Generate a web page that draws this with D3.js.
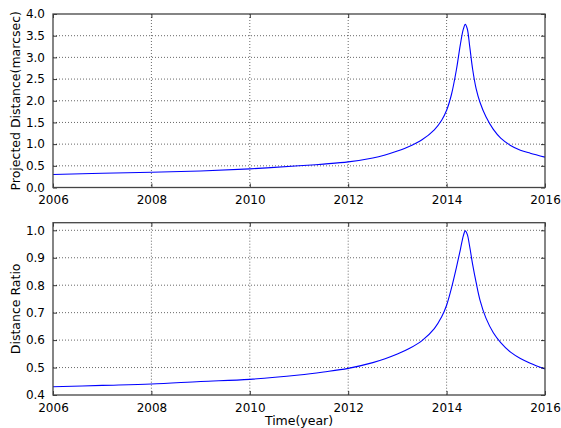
<!DOCTYPE html>
<html>
<head>
<meta charset="utf-8">
<script src="https://cdn.jsdelivr.net/npm/d3@7"></script>
<style>
  body { margin: 0; background: #fff; }
  svg { display: block; font-family: "DejaVu Sans", sans-serif; }
  .grid line { stroke: #000; stroke-width: 0.6; stroke-dasharray: 1,2; }
</style>
</head>
<body>
<svg id="chart" width="561" height="428"></svg>
<script>
// Layout
let width = 561, height = 428;
let left = 53, right = 545;

// Shared time axis (years)
let years = [2006, 2007, 2008, 2009, 2010, 2011, 2011.5, 2012, 2012.5, 2012.75, 2013, 2013.25,
             2013.5, 2013.75, 2013.9, 2014, 2014.1, 2014.2, 2014.28, 2014.34, 2014.38, 2014.42,
             2014.47, 2014.53, 2014.6, 2014.68, 2014.8, 2014.95, 2015.1, 2015.3, 2015.5, 2015.7, 2016];

// Top panel: projected distance (marcsec)
let projDist = [0.30, 0.33, 0.35, 0.38, 0.43, 0.50, 0.54, 0.59, 0.68, 0.75, 0.84, 0.95,
                1.10, 1.33, 1.55, 1.78, 2.15, 2.72, 3.30, 3.65, 3.76, 3.66,
                3.25, 2.72, 2.28, 1.96, 1.63, 1.34, 1.14, 0.97, 0.86, 0.79, 0.70];

// Bottom panel: distance ratio
let distRatio = [0.430, 0.435, 0.440, 0.449, 0.457, 0.473, 0.484, 0.497, 0.518, 0.532, 0.549, 0.570,
                 0.598, 0.642, 0.685, 0.727, 0.790, 0.865, 0.930, 0.980, 0.998, 0.985,
                 0.940, 0.875, 0.810, 0.745, 0.680, 0.627, 0.591, 0.556, 0.533, 0.516, 0.495];

let xTicks = [2006, 2008, 2010, 2012, 2014, 2016];
let topTicks = [0.0, 0.5, 1.0, 1.5, 2.0, 2.5, 3.0, 3.5, 4.0];
let bottomTicks = [0.4, 0.5, 0.6, 0.7, 0.8, 0.9, 1.0];

let svg = d3.select("#chart");

function drawPanel(top, bottom, values, yDomain, yTicks, yLabel, xLabel) {
    let x = d3.scaleLinear().domain([2006, 2016]).range([left, right]);
    let y = d3.scaleLinear().domain(yDomain).range([bottom, top]);
    let g = svg.append("g");

    // grid
    let grid = g.append("g").attr("class", "grid");
    grid.selectAll(".gx").data(xTicks.slice(1, -1)).enter().append("line")
        .attr("x1", d => x(d)).attr("x2", d => x(d))
        .attr("y1", top).attr("y2", bottom);
    grid.selectAll(".gy").data(yTicks.filter(d => y(d) > top + 1 && y(d) < bottom - 1)).enter().append("line")
        .attr("x1", left).attr("x2", right)
        .attr("y1", d => y(d)).attr("y2", d => y(d));

    // data line
    let line = d3.line()
        .x((d, i) => x(years[i]))
        .y(d => y(d))
        .curve(d3.curveCatmullRom.alpha(0.5));
    g.append("path")
        .datum(values)
        .attr("d", line)
        .attr("fill", "none")
        .attr("stroke", "#0000ff")
        .attr("stroke-width", 1.1);

    // axes with inward ticks on all four sides
    let tl = 4;
    g.append("g").attr("transform", `translate(0,${bottom})`)
        .call(d3.axisBottom(x).tickValues(xTicks).tickFormat(d3.format("d")).tickSizeInner(-tl).tickSizeOuter(0).tickPadding(8))
        .call(s => s.select(".domain").remove());
    g.append("g").attr("transform", `translate(0,${top})`)
        .call(d3.axisTop(x).tickValues(xTicks).tickFormat("").tickSizeInner(-tl).tickSizeOuter(0))
        .call(s => s.select(".domain").remove());
    g.append("g").attr("transform", `translate(${left},0)`)
        .call(d3.axisLeft(y).tickValues(yTicks).tickFormat(d3.format(".1f")).tickSizeInner(-tl).tickSizeOuter(0).tickPadding(8))
        .call(s => s.select(".domain").remove());
    g.append("g").attr("transform", `translate(${right},0)`)
        .call(d3.axisRight(y).tickValues(yTicks).tickFormat("").tickSizeInner(-tl).tickSizeOuter(0))
        .call(s => s.select(".domain").remove());

    g.selectAll(".tick text")
        .attr("font-family", "DejaVu Sans, sans-serif")
        .attr("font-size", 12)
        .attr("fill", "#000");
    g.selectAll(".tick line").attr("stroke", "#000").attr("stroke-width", 0.8);

    // frame
    g.append("rect")
        .attr("x", left).attr("y", top)
        .attr("width", right - left).attr("height", bottom - top)
        .attr("fill", "none")
        .attr("stroke", "#444")
        .attr("stroke-width", 1.3);

    // y label
    g.append("text")
        .attr("transform", `translate(20,${(top + bottom) / 2}) rotate(-90)`)
        .attr("text-anchor", "middle")
        .attr("font-size", 12.5)
        .text(yLabel);

    if (xLabel) {
        g.append("text")
            .attr("x", (left + right) / 2).attr("y", 425)
            .attr("text-anchor", "middle")
            .attr("font-size", 12.5)
            .text(xLabel);
    }
}

drawPanel(14, 187.5, projDist, [0, 4.0], topTicks, "Projected Distance(marcsec)", null);
drawPanel(222.7, 395, distRatio, [0.4, 1.0277], bottomTicks, "Distance Ratio", "Time(year)");
</script>
</body>
</html>
